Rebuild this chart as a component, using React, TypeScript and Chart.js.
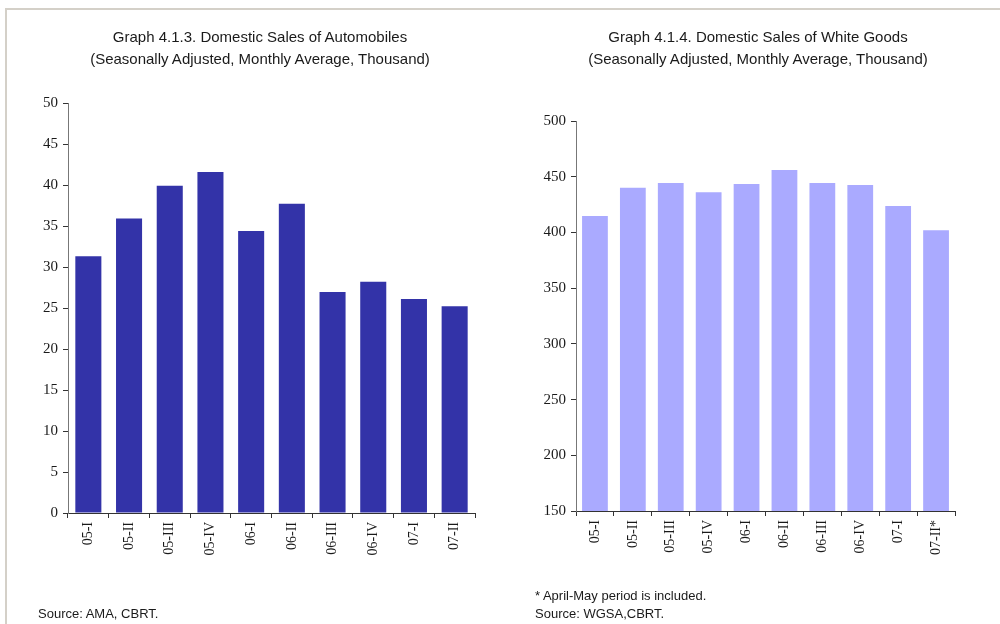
import React, { useEffect, useRef } from "react";
import { Chart, registerables } from "chart.js";

Chart.register(...registerables);

const autoCategories = ["05-I", "05-II", "05-III", "05-IV", "06-I", "06-II", "06-III", "06-IV", "07-I", "07-II"];
const autoValues = [31.3, 35.9, 39.9, 41.6, 34.4, 37.7, 26.95, 28.2, 26.1, 25.2];
const whiteCategories = ["05-I", "05-II", "05-III", "05-IV", "06-I", "06-II", "06-III", "06-IV", "07-I", "07-II*"];
const whiteValues = [414.7, 440, 444.4, 436, 443.5, 456, 444.4, 442.6, 423.7, 402];

const autoTitle = ["Graph 4.1.3. Domestic Sales of Automobiles", "(Seasonally Adjusted, Monthly Average, Thousand)"];
const whiteTitle = ["Graph 4.1.4. Domestic Sales of White Goods", "(Seasonally Adjusted, Monthly Average, Thousand)"];

const SERIF = "'Liberation Serif', 'Times New Roman', serif";
const SANS = "'Liberation Sans', Arial, sans-serif";

type Cfg = {
  labels: string[];
  values: number[];
  color: string;
  min: number;
  max: number;
  step: number;
  yWidth: number;
  xHeight: number;
  padTop: number;
  padRight: number;
  barPct: number;
};

function BarChart({ cfg }: { cfg: Cfg }) {
  const ref = useRef<HTMLCanvasElement>(null);
  useEffect(() => {
    if (!ref.current) return;
    const chart = new Chart(ref.current, {
      type: "bar",
      data: {
        labels: cfg.labels,
        datasets: [
          {
            data: cfg.values,
            backgroundColor: cfg.color,
            borderWidth: 0,
            categoryPercentage: 1,
            barPercentage: cfg.barPct,
          },
        ],
      },
      options: {
        animation: false,
        responsive: false,
        maintainAspectRatio: false,
        layout: { padding: { top: cfg.padTop, right: cfg.padRight, bottom: 0, left: 0 } },
        plugins: { legend: { display: false }, tooltip: { enabled: false }, title: { display: false } },
        scales: {
          x: {
            grid: { display: true, drawOnChartArea: false, drawTicks: true, tickLength: 5, color: "#333", offset: true },
            border: { display: true, color: "#333", width: 1 },
            ticks: {
              color: "#1a1a1a",
              font: { family: SERIF, size: 14 },
              minRotation: 90,
              maxRotation: 90,
              padding: 4,
              autoSkip: false,
            },
            afterFit: (s: any) => {
              s.height = cfg.xHeight;
            },
          },
          y: {
            min: cfg.min,
            max: cfg.max,
            grid: { display: true, drawOnChartArea: false, drawTicks: true, tickLength: 5, color: "#333" },
            border: { display: true, color: "#777", width: 1 },
            ticks: {
              stepSize: cfg.step,
              color: "#1a1a1a",
              font: { family: SERIF, size: 15 },
              padding: 5,
            },
            afterFit: (s: any) => {
              s.width = cfg.yWidth;
            },
          },
        },
      },
    });
    return () => chart.destroy();
  }, []);
  return <canvas ref={ref} width={500} height={624} style={{ display: "block", width: 500, height: 624 }} />;
}

const titleStyle: React.CSSProperties = {
  position: "absolute",
  top: 26,
  width: 500,
  textAlign: "center",
  fontFamily: SANS,
  fontSize: 15,
  lineHeight: "22px",
  color: "#1a1a1a",
};

const noteStyle: React.CSSProperties = {
  position: "absolute",
  fontFamily: SANS,
  fontSize: 13,
  lineHeight: "18px",
  color: "#1a1a1a",
  whiteSpace: "nowrap",
};

export default function App() {
  return (
    <div style={{ position: "fixed", left: 0, top: 0, width: 1000, height: 624, background: "#fff", overflow: "hidden" }}>
      <div style={{ position: "absolute", left: 5, top: 8, width: 995, height: 2, background: "#D4D0C8" }} />
      <div style={{ position: "absolute", left: 5, top: 8, width: 2, height: 616, background: "#D4D0C8" }} />
      <div style={{ position: "absolute", left: 0, top: 0 }}>
        <BarChart
          cfg={{
            labels: autoCategories,
            values: autoValues,
            color: "#3333A8",
            min: 0,
            max: 50,
            step: 5,
            yWidth: 68,
            xHeight: 111,
            padTop: 103,
            padRight: 25,
            barPct: 0.64,
          }}
        />
      </div>
      <div style={{ position: "absolute", left: 500, top: 0 }}>
        <BarChart
          cfg={{
            labels: whiteCategories,
            values: whiteValues,
            color: "#AAAAFF",
            min: 150,
            max: 500,
            step: 50,
            yWidth: 76,
            xHeight: 113,
            padTop: 121,
            padRight: 45,
            barPct: 0.68,
          }}
        />
      </div>
      <div style={{ ...titleStyle, left: 10 }}>
        {autoTitle[0]}
        <br />
        {autoTitle[1]}
      </div>
      <div style={{ ...titleStyle, left: 508 }}>
        {whiteTitle[0]}
        <br />
        {whiteTitle[1]}
      </div>
      <div style={{ ...noteStyle, left: 38, top: 605 }}>Source: AMA, CBRT.</div>
      <div style={{ ...noteStyle, left: 535, top: 587 }}>* April-May period is included.</div>
      <div style={{ ...noteStyle, left: 535, top: 605 }}>Source: WGSA,CBRT.</div>
    </div>
  );
}
